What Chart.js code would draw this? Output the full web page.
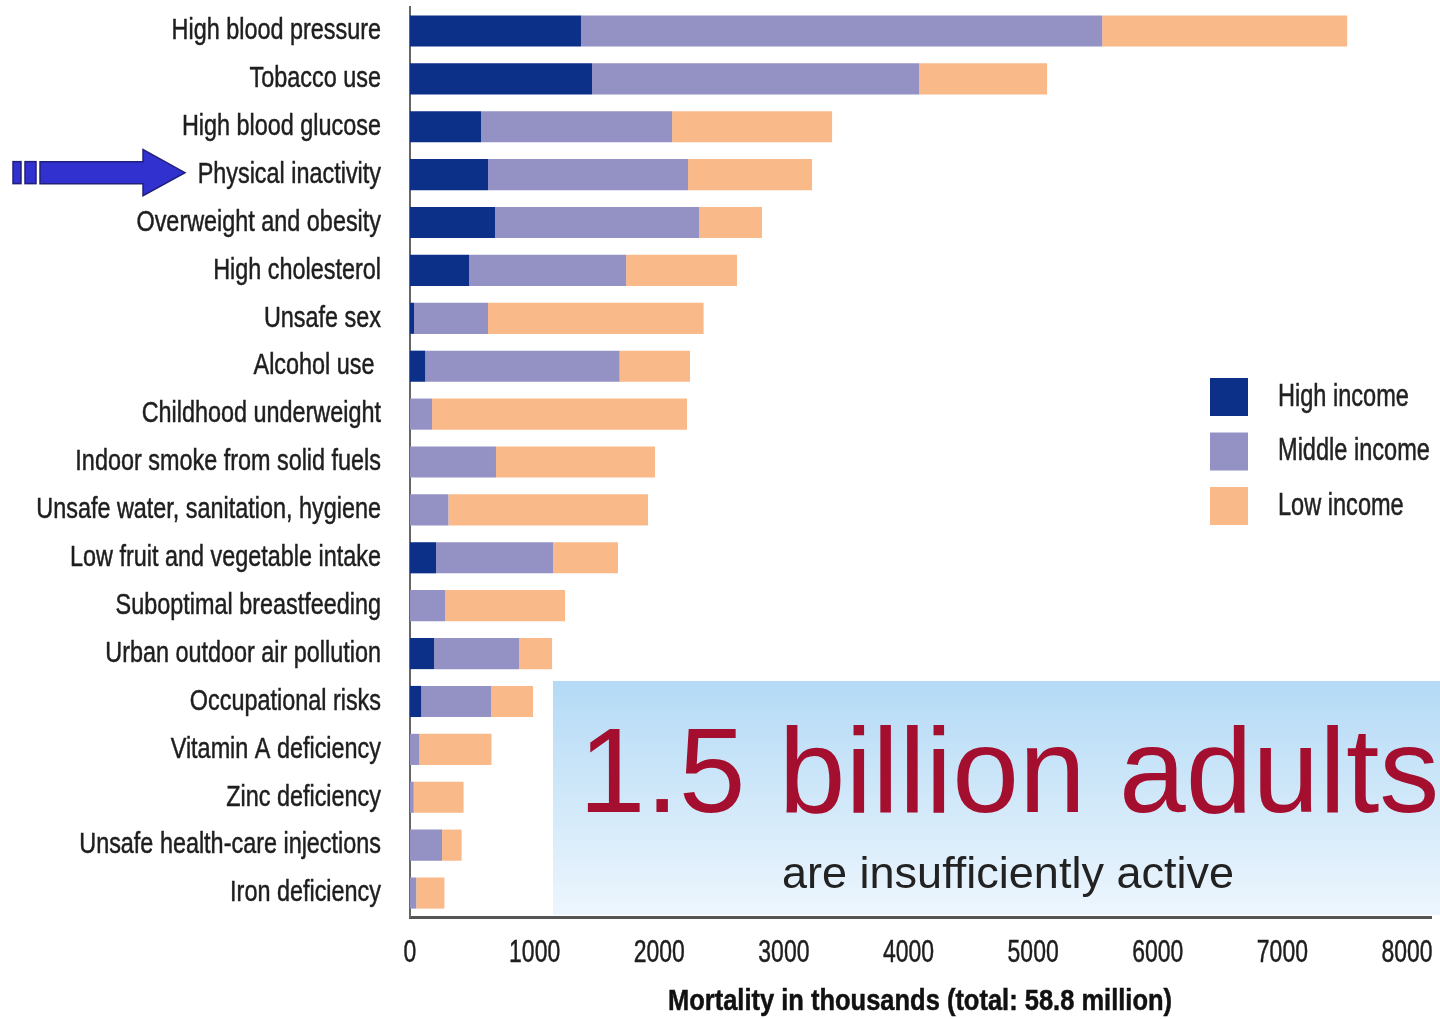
<!DOCTYPE html>
<html>
<head>
    <meta charset="UTF-8">
    <title>Mortality by risk factor</title>
    <script src="https://cdn.jsdelivr.net/npm/chart.js@4.4.1/dist/chart.umd.min.js"></script>
    <style>
        body { margin: 0; background: #fff; }
        #wrap { width: 1440px; height: 1019px; }
    </style>
</head>
<body>
<div id="wrap"><canvas id="riskChart" width="1440" height="1019"></canvas></div>

<script>
    // data (thousands of deaths)
    const riskFactors = [
        "High blood pressure", "Tobacco use", "High blood glucose", "Physical inactivity",
        "Overweight and obesity", "High cholesterol", "Unsafe sex", "Alcohol use ",
        "Childhood underweight", "Indoor smoke from solid fuels", "Unsafe water, sanitation, hygiene",
        "Low fruit and vegetable intake", "Suboptimal breastfeeding", "Urban outdoor air pollution",
        "Occupational risks", "Vitamin A deficiency", "Zinc deficiency",
        "Unsafe health-care injections", "Iron deficiency"
    ];
    const highIncome = [1372, 1461, 570, 626, 682, 474, 32, 122, 0, 0, 0, 209, 0, 193, 90, 0, 0, 0, 0];
    const middleIncome = [4182, 2624, 1533, 1605, 1637, 1260, 594, 1560, 177, 690, 308, 939, 281, 682, 560, 75, 30, 257, 50];
    const lowIncome = [1966, 1027, 1284, 995, 506, 890, 1730, 565, 2046, 1276, 1602, 521, 963, 265, 337, 579, 400, 157, 226];
    const seriesNames = ["High income", "Middle income", "Low income"];
    const seriesColors = ["#0c2f88", "#9491c5", "#f9b988"];
    const xTicks = [0, 1000, 2000, 3000, 4000, 5000, 6000, 7000, 8000];
    const xTitle = "Mortality in thousands (total: 58.8 million)";

    const sans = "'Liberation Sans', Arial, sans-serif";
    const inactiveIndex = riskFactors.indexOf("Physical inactivity");

    // the original uses a condensed face, so squeeze Liberation Sans sideways
    function narrowText(ctx, text, x, y, align, sx) {
        ctx.save();
        ctx.translate(x, y);
        ctx.scale(sx, 1);
        ctx.textAlign = align;
        ctx.fillText(text, 0, 0);
        ctx.lineWidth = 0.5;
        ctx.strokeStyle = ctx.fillStyle;
        ctx.strokeText(text, 0, 0);
        ctx.restore();
    }

    const extras = {
        id: "extras",
        beforeDatasetsDraw(chart) {
            const ctx = chart.ctx;
            const x0 = 553, y0 = 681, x1 = 1440, y1 = 915;
            ctx.save();
            const g = ctx.createLinearGradient(0, y0, 0, y1);
            g.addColorStop(0, "#b4daf6");
            g.addColorStop(0.5, "#d0e8f9");
            g.addColorStop(1, "#edf6fe");
            ctx.fillStyle = g;
            ctx.fillRect(x0, y0, x1 - x0, y1 - y0);
            ctx.textAlign = "center";
            ctx.textBaseline = "alphabetic";
            ctx.fillStyle = "#a50f2f";
            ctx.font = "120px " + sans;
            ctx.fillText("1.5 billion adults", 1009, 812);
            ctx.fillStyle = "#222";
            ctx.font = "45px " + sans;
            ctx.fillText("are insufficiently active", 1008, 888);
            ctx.restore();
        },
        afterDraw(chart) {
            const ctx = chart.ctx;
            const area = chart.chartArea;
            const xs = chart.scales.x, ys = chart.scales.y;
            ctx.save();
            // bottom axis line runs a bit past 8000
            ctx.strokeStyle = "#555";
            ctx.lineWidth = 3;
            ctx.beginPath();
            ctx.moveTo(area.right - 2, area.bottom + 0.5);
            ctx.lineTo(1432, area.bottom + 0.5);
            ctx.stroke();

            // category labels
            ctx.textBaseline = "middle";
            ctx.fillStyle = "#1e1e1e";
            ctx.font = "30px " + sans;
            chart.data.labels.forEach((lab, i) => {
                narrowText(ctx, lab, 381, ys.getPixelForValue(i), "right", 0.78);
            });

            // x tick labels and title
            ctx.font = "31px " + sans;
            xTicks.forEach(v => {
                narrowText(ctx, String(v), xs.getPixelForValue(v), area.bottom + 36, "center", 0.74);
            });
            ctx.font = "bold 30px " + sans;
            const tw = ctx.measureText(xTitle).width;
            ctx.fillStyle = "#111";
            narrowText(ctx, xTitle, 920, 1002, "center", 504 / tw);

            // legend
            ctx.font = "31px " + sans;
            chart.data.datasets.forEach((ds, i) => {
                const top = 378 + i * 54.5;
                ctx.fillStyle = ds.backgroundColor;
                ctx.fillRect(1210, top, 38, 38);
                ctx.fillStyle = "#222";
                narrowText(ctx, ds.label, 1278, top + 19, "left", 0.76);
            });

            // arrow pointing at physical inactivity
            const y = ys.getPixelForValue(inactiveIndex) - 2;
            ctx.fillStyle = "#3131cf";
            ctx.strokeStyle = "#20207a";
            ctx.lineWidth = 1.5;
            ctx.fillRect(13, y - 11, 8, 22);
            ctx.strokeRect(13, y - 11, 8, 22);
            ctx.fillRect(25, y - 11, 11, 22);
            ctx.strokeRect(25, y - 11, 11, 22);
            ctx.beginPath();
            ctx.moveTo(40, y - 11);
            ctx.lineTo(143, y - 11);
            ctx.lineTo(143, y - 23);
            ctx.lineTo(185, y);
            ctx.lineTo(143, y + 23);
            ctx.lineTo(143, y + 11);
            ctx.lineTo(40, y + 11);
            ctx.closePath();
            ctx.fill();
            ctx.stroke();
            ctx.restore();
        }
    };

    new Chart(document.getElementById("riskChart"), {
        type: "bar",
        data: {
            labels: riskFactors,
            datasets: [
                { label: seriesNames[0], data: highIncome, backgroundColor: seriesColors[0] },
                { label: seriesNames[1], data: middleIncome, backgroundColor: seriesColors[1] },
                { label: seriesNames[2], data: lowIncome, backgroundColor: seriesColors[2] }
            ]
        },
        options: {
            indexAxis: "y",
            responsive: false,
            animation: false,
            layout: { padding: { left: 0, right: 33, top: 7, bottom: 0 } },
            datasets: { bar: { categoryPercentage: 1, barPercentage: 0.65, borderWidth: 0 } },
            plugins: {
                legend: { display: false },
                tooltip: { enabled: false }
            },
            scales: {
                x: {
                    stacked: true,
                    min: 0,
                    max: 8000,
                    afterFit(scale) { scale.height = 102; },
                    grid: { display: false, drawTicks: false },
                    border: { display: true, color: "#555", width: 3 },
                    ticks: { display: false, stepSize: 1000 }
                },
                y: {
                    stacked: true,
                    afterFit(scale) { scale.width = 410; },
                    grid: { display: false, drawTicks: false },
                    border: { display: true, color: "#666", width: 2 },
                    ticks: { display: false }
                }
            }
        },
        plugins: [extras]
    });
</script>
</body>
</html>
